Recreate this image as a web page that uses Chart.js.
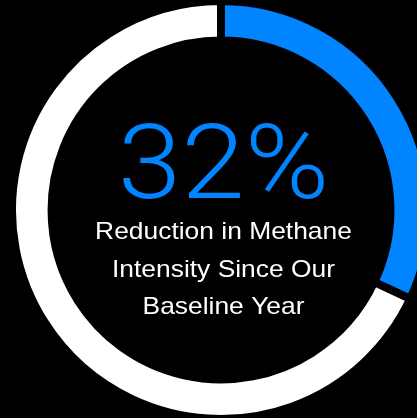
<!DOCTYPE html>
<html>
<head>
<meta charset="utf-8">
<script src="https://cdn.jsdelivr.net/npm/chart.js@4/dist/chart.umd.min.js"></script>
<style>
  html, body { margin: 0; padding: 0; background: #000; overflow: hidden; }
  #wrap { position: absolute; left: 0; top: 0; width: 442px; height: 420px; }
</style>
</head>
<body>
<div id="wrap"><canvas id="myChart" width="442" height="420"></canvas></div>
<script>
const labels = ['Reduction', 'Remaining'];
const values = [32, 68];
const colors = ['#0084ff', '#ffffff'];
const headline = '32%';
const captionLines = ['Reduction in Methane', 'Intensity Since Our', 'Baseline Year'];

// draw text stretched a bit wider, closer to the original Helvetica look
function wideText(ctx, text, x, y, stretch) {
  ctx.save();
  ctx.translate(x, y);
  ctx.scale(stretch, 1);
  ctx.fillText(text, 0, 0);
  ctx.restore();
}

const centerText = {
  id: 'centerText',
  afterDraw(chart) {
    const { ctx } = chart;
    const arc = chart.getDatasetMeta(0).data[0];
    const x = arc.x + 2;
    const y = arc.y;
    ctx.save();
    ctx.textAlign = 'center';
    ctx.textBaseline = 'alphabetic';
    ctx.fillStyle = colors[0];
    ctx.font = '300 104px Roboto, "Liberation Sans", sans-serif';
    wideText(ctx, headline, x + 0.5, y - 12, 1.1);
    ctx.fillStyle = '#ffffff';
    ctx.font = '24px "Liberation Sans", Arial, sans-serif';
    captionLines.forEach((line, i) => {
      wideText(ctx, line, x + 0.5, y + 29 + i * 37.6, 1.1);
    });
    ctx.restore();
  }
};

const ctx = document.getElementById('myChart').getContext('2d');
const myChart = new Chart(ctx, {
  type: 'doughnut',
  data: {
    labels: labels,
    datasets: [
      {
        data: values,
        backgroundColor: colors,
        borderColor: '#000000',
        borderWidth: 8,
        hoverOffset: 0
      }
    ]
  },
  options: {
    responsive: false,
    animation: false,
    radius: 209,
    cutout: 167,
    layout: { padding: 0 },
    plugins: {
      legend: { display: false },
      tooltip: { enabled: false }
    }
  },
  plugins: [centerText]
});
</script>
</body>
</html>
